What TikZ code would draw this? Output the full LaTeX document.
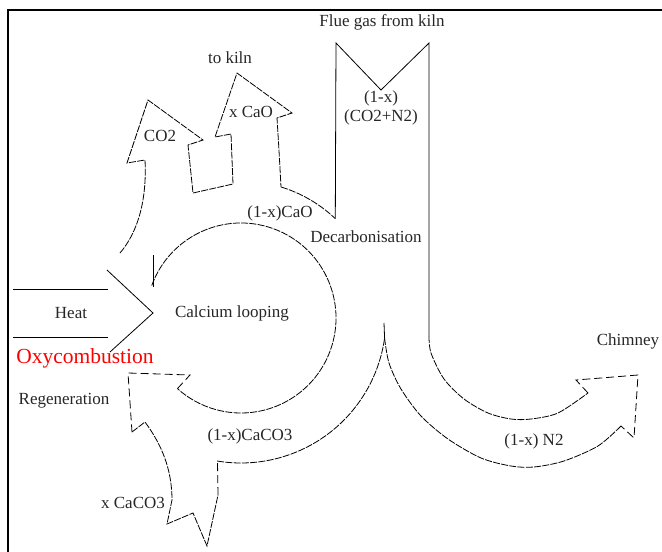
\documentclass[tikz,border=0pt]{standalone}
\usepackage{fontspec}
\setmainfont{Liberation Serif}
\begin{document}
\begin{tikzpicture}[x=1pt,y=-1pt,line width=0.8pt,
  lbl/.style={inner sep=0pt,font=\fontsize{17}{19}\selectfont,text=black!85},
  redlbl/.style={inner sep=0pt,font=\fontsize{21.5}{24}\selectfont,text=red},
  fine/.style={dash pattern=on 7pt off 1.3pt},
  boxdash/.style={dash pattern=on 8pt off 4pt},
  frame/.style={line width=1.6pt}]
\useasboundingbox (0,0) rectangle (662,552);
\draw[frame] (8,552) -- (8,10) -- (662,10);

% heat arrow
\draw (13,289) -- (108,289);
\draw (13,337) -- (108,337);
\draw (107,270) -- (153,313) -- (110,352);

% calcium looping circle
\coordinate (c) at (241,318);
\draw (153,255) -- (153,287);
\draw[fine] (c) ++(200:95) arc[start angle=200,end angle=492,radius=95] coordinate (ce);
\draw[boxdash] (ce) -- (190,375) -- (128,373) -- (132,432);
\draw[fine] (132,432) -- (145,422) .. controls (162,445) and (172,470) .. (172,500) -- (167,524) -- (193,513) -- (207,546) -- (218,495);
\draw[boxdash] (218,495) -- (217.5,461.5);
\draw[fine] (c) ++(99.5:145) arc[start angle=99.5,end angle=8,radius=145] coordinate (cusp);

% chimney
\draw (cusp) -- (384,323);
\draw[fine] plot[smooth] coordinates {(429,336) (431,353) (444,379) (464,399) (488,413) (511,419) (531,419) (558,413) (588,393)};
\draw[boxdash] (588,393) -- (576,380) -- (638,375) -- (634,438) -- (621,426);
\draw[fine] plot[smooth] coordinates {(621,426) (598,446) (564,461) (534,467) (511,466) (481,458) (448,439) (421,416) (401,389) (389,363) (384.6,338.2)};

% flue gas box
\draw (c) ++(-46.5:137) coordinate (fb) -- (336,43) -- (381,90) -- (429,43) -- (429,336);

% CO2 and x CaO arrows
\draw[fine] (120,253) .. controls (138,232) and (147,200) .. (145,160) -- (127,163) -- (148,100) -- (203,140) -- (188,145) -- (193,193) -- (233,184) -- (231,134) -- (215,137) -- (237,73) -- (292,113) -- (277,118) .. controls (279,150) .. (281,187);
\draw[fine] (c) ++(-73:137) arc[start angle=-73,end angle=-46.5,radius=137];

% labels
\node[lbl] (flue) at (382,22) {Flue gas from kiln};
\node[lbl] (tokiln) at (230,58) {to kiln};
\node[lbl] (co2) at (160,136) {CO2};
\node[lbl] (xcao) at (251,112) {x CaO};
\node[lbl,align=center] (fx) at (381,108) {(1-x)\\(CO2+N2)};
\node[lbl] (cao) at (280,213) {(1-x)CaO};
\node[lbl] (decarb) at (366,237) {Decarbonisation};
\node[lbl] (heat) at (71,313) {Heat};
\node[lbl] (cl) at (232,313) {Calcium looping};
\node[redlbl] (oxy) at (85,358) {Oxycombustion};
\node[lbl] (regen) at (64,401) {Regeneration};
\node[lbl] (caco3) at (250,436) {(1-x)CaCO3};
\node[lbl] (xcaco3) at (133,503) {x CaCO3};
\node[lbl] (n2) at (534,441) {(1-x) N2};
\node[lbl] (chim) at (628,341) {Chimney};
\end{tikzpicture}
\end{document}
